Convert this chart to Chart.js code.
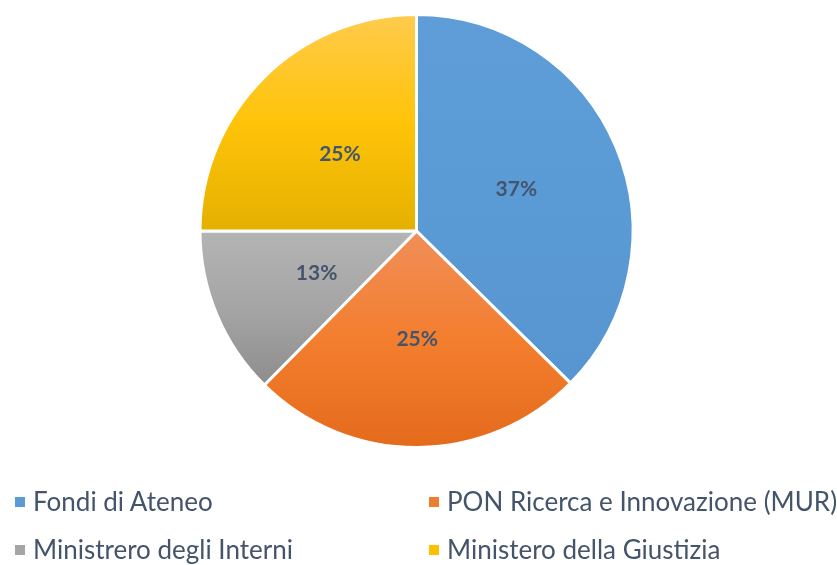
<!DOCTYPE html>
<html>
<head>
<meta charset="utf-8">
<script src="https://cdn.jsdelivr.net/npm/chart.js@4"></script>
<style>
  html, body { margin: 0; padding: 0; background: #fff; }
  #wrap { position: relative; width: 837px; height: 565px; }
  #fundsChart { position: absolute; left: 0; top: 0; }
  .legend-item {
    position: absolute;
    font-family: Lato, "Open Sans", sans-serif;
    font-size: 26px;
    color: #44546A;
    line-height: 30px;
    white-space: nowrap;
  }
  .legend-item span {
    display: inline-block;
    width: 10px;
    height: 10px;
    margin-right: 8px;
    vertical-align: 4px;
  }
</style>
</head>
<body>
<div id="wrap">
  <canvas id="fundsChart" width="837" height="565"></canvas>
</div>
<script>
'use strict'

// fonti di finanziamento
const sources = ['Fondi di Ateneo', 'PON Ricerca e Innovazione (MUR)', 'Ministrero degli Interni', 'Ministero della Giustizia'];
const shares = [37.4, 25, 12.6, 25];

// colori: alto, centro, basso (riempimento sfumato come in Excel)
const sliceColors = [
  ['#5E9DD8', '#5B9BD5', '#5795D0'],
  ['#F08F59', '#F37E2E', '#E46A1C'],
  ['#B4B4B4', '#A5A5A5', '#8D8D8D'],
  ['#FFCB4E', '#FFC409', '#E4B000'],
];
const legendColors = ['#5B9BD5', '#ED7D31', '#A5A5A5', '#FFC000'];

const total = shares.reduce((a, b) => a + b, 0);

function sliceGradient(context) {
  const i = context.dataIndex;
  const chart = context.chart;
  const area = chart.chartArea;
  const stops = sliceColors[i];
  if (!area) return stops[1];
  const cy = (area.top + area.bottom) / 2;
  const r = Math.min(area.width, area.height) / 2;
  let before = 0;
  for (let k = 0; k < i; k++) before += shares[k];
  const a0 = -Math.PI / 2 + before / total * Math.PI * 2;
  const a1 = a0 + shares[i] / total * Math.PI * 2;
  let ys = [cy, cy + r * Math.sin(a0), cy + r * Math.sin(a1)];
  [-Math.PI / 2, Math.PI / 2, Math.PI * 1.5].forEach((a) => {
    if (a > a0 && a < a1) ys.push(cy + r * Math.sin(a));
  });
  const minY = Math.min(...ys);
  const maxY = Math.max(...ys);
  const grad = chart.ctx.createLinearGradient(0, minY, 0, maxY);
  grad.addColorStop(0.0, stops[0]);
  grad.addColorStop(0.5, stops[1]);
  grad.addColorStop(1.0, stops[2]);
  return grad;
}

const sliceLabels = {
  id: 'sliceLabels',
  afterDatasetsDraw(chart) {
    const c = chart.ctx;
    const meta = chart.getDatasetMeta(0);
    c.save();
    c.font = 'bold 21px Lato, "Open Sans", sans-serif';
    c.fillStyle = '#44546A';
    c.textAlign = 'center';
    c.textBaseline = 'middle';
    meta.data.forEach((arc, i) => {
      const p = arc.tooltipPosition();
      c.fillText(Math.round(shares[i] / total * 100) + '%', p.x, p.y);
    });
    c.restore();
  }
};

const ctx = document.getElementById('fundsChart');
const myChart = new Chart(ctx, {
  type: 'pie',
  data: {
    labels: sources,
    datasets: [{
      data: shares,
      backgroundColor: sliceGradient,
      borderColor: '#ffffff',
      borderWidth: 3,
    }]
  },
  options: {
    responsive: false,
    animation: false,
    layout: {
      padding: { top: 13, bottom: 116, left: 0, right: 4 }
    },
    plugins: {
      legend: { display: false },
      tooltip: { enabled: false },
    }
  },
  plugins: [sliceLabels]
});

// legenda
const legendPos = [
  {left: 15, top: 486},
  {left: 429, top: 486},
  {left: 15, top: 534},
  {left: 429, top: 534},
];
const wrap = document.getElementById('wrap');
sources.forEach((name, i) => {
  wrap.insertAdjacentHTML('beforeend',
    `<div class="legend-item" style="left:${legendPos[i].left}px;top:${legendPos[i].top}px">`
    + `<span style="background:${legendColors[i]}"></span>${name}</div>`);
});
</script>
</body>
</html>
